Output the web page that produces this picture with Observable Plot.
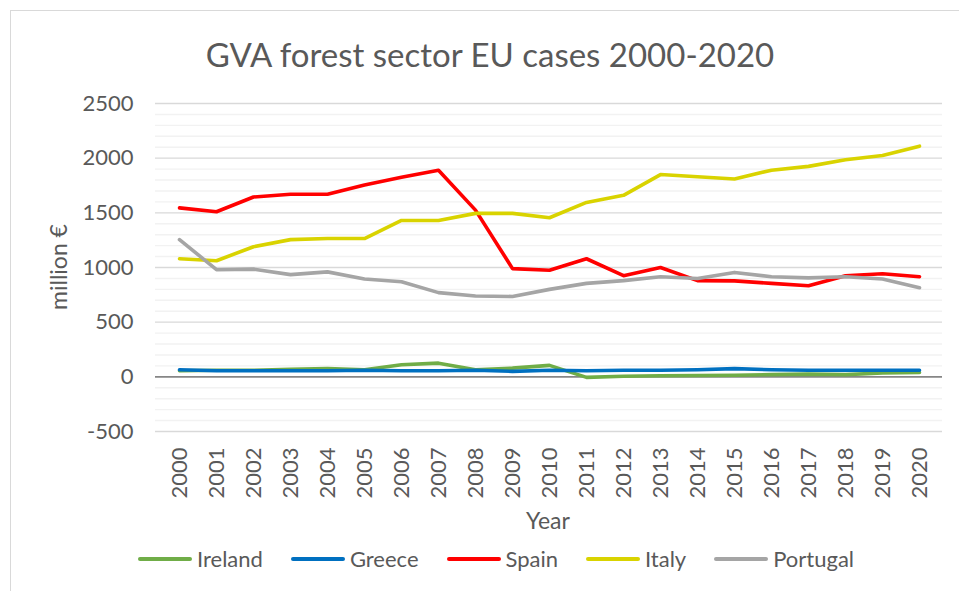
<!DOCTYPE html>
<html><head><meta charset="utf-8">
<script src="https://cdn.jsdelivr.net/npm/d3@7"></script>
<script src="https://cdn.jsdelivr.net/npm/@observablehq/plot@0.6"></script>
<style>
body{margin:0;background:#fff;font-family:Lato,"Open Sans",sans-serif;color:#595959;}
#wrap{position:relative;width:959px;height:591px;overflow:hidden;background:#fff;}
#border{position:absolute;left:10px;top:10px;width:1000px;height:600px;border:1.5px solid #d9d9d9;box-sizing:border-box;}
#chart{position:absolute;left:0;top:0;}
#title{position:absolute;left:490px;top:38px;transform:translateX(-50%);font-size:33px;line-height:1;white-space:nowrap;}
#ylabel{position:absolute;left:58px;top:267px;transform:translate(-50%,-50%) rotate(-90deg);font-size:23px;line-height:1;white-space:nowrap;}
#xlabel{position:absolute;left:548px;top:509px;transform:translateX(-50%);font-size:23px;line-height:1;white-space:nowrap;}
#legend{position:absolute;left:138px;top:548px;display:flex;align-items:center;gap:28px;font-size:22px;line-height:1;white-space:nowrap;}
.item{display:flex;align-items:center;gap:5px;}
.sw{width:54px;height:4px;border-radius:2px;}
</style></head>
<body>
<div id="wrap">
  <div id="border"></div>
  <div id="chart"></div>
  <div id="title">GVA forest sector EU cases 2000-2020</div>
  <div id="ylabel">million €</div>
  <div id="xlabel">Year</div>
  <div id="legend"></div>
</div>
<script>
const years = [2000,2001,2002,2003,2004,2005,2006,2007,2008,2009,2010,2011,2012,2013,2014,2015,2016,2017,2018,2019,2020];
const seriesNames = ["Ireland","Greece","Spain","Italy","Portugal"];
const seriesColors = ["#70AD47","#0070C0","#FF0000","#D9D300","#A5A5A5"];
const ireland  = [55,60,60,70,75,65,110,125,65,80,105,-5,5,10,12,15,20,25,20,35,40];
const greece   = [65,55,55,55,55,60,55,55,60,50,60,55,60,60,65,75,65,60,60,60,60];
const spain    = [1545,1510,1645,1670,1670,1755,1825,1890,1525,990,975,1080,925,1000,880,878,855,833,925,943,916];
const italy    = [1080,1062,1190,1255,1265,1265,1430,1430,1495,1495,1455,1595,1660,1850,1830,1810,1890,1925,1985,2025,2110];
const portugal = [1255,980,985,935,960,895,870,770,740,735,800,855,880,915,900,955,915,905,915,895,815];
const yTicks = [-500,0,500,1000,1500,2000,2500];
const minorTicks = d3.range(-500, 2501, 100);

const seriesValues = [ireland, greece, spain, italy, portugal];
const data = [];
seriesNames.forEach((name, s) => years.forEach((yr, i) => data.push({series: name, year: yr, value: seriesValues[s][i]})));

const chart = Plot.plot({
  width: 959,
  height: 591,
  marginLeft: 155,
  marginRight: 17,
  marginTop: 103,
  marginBottom: 160,
  style: {fontFamily: "Lato, 'Open Sans', sans-serif", fontSize: "22px", color: "#595959", background: "transparent", overflow: "visible"},
  x: {type: "point", domain: years, padding: 0.5},
  y: {domain: [-500, 2500]},
  color: {domain: seriesNames, range: seriesColors},
  marks: [
    Plot.ruleY(minorTicks.filter(v => v % 500 !== 0), {stroke: "#f2f2f2", strokeWidth: 1.4}),
    Plot.ruleY(yTicks.filter(v => v !== 0), {stroke: "#d9d9d9", strokeWidth: 1.4}),
    Plot.ruleY([0], {stroke: "#868686", strokeWidth: 1.6}),
    Plot.axisY({ticks: yTicks, tickSize: 0, tickPadding: 22, tickFormat: d => String(d), label: null, fill: "#595959", fontSize: 22}),
    Plot.axisX({tickSize: 0, tickPadding: 16, tickRotate: -90, tickFormat: d => String(d), label: null, fill: "#595959", fontSize: 22}),
    Plot.line(data, {x: "year", y: "value", z: "series", stroke: "series", strokeWidth: 3.6, strokeLinejoin: "round", strokeLinecap: "round"})
  ]
});
document.getElementById("chart").appendChild(chart);

const legend = document.getElementById("legend");
seriesNames.forEach((name, i) => {
  const it = document.createElement("div"); it.className = "item";
  const sw = document.createElement("div"); sw.className = "sw"; sw.style.background = seriesColors[i];
  const tx = document.createElement("span"); tx.textContent = name;
  it.appendChild(sw); it.appendChild(tx); legend.appendChild(it);
});
</script>
</body></html>
